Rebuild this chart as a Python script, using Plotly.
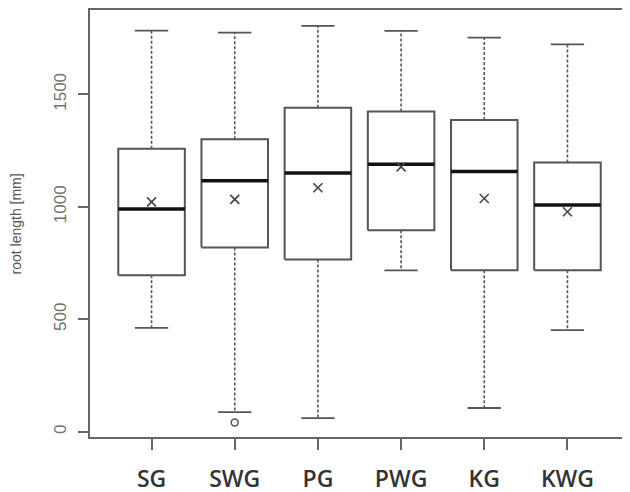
import plotly.graph_objects as go

categories = ["SG", "SWG", "PG", "PWG", "KG", "KWG"]
lower_whisker = [462, 88, 61, 718, 106, 452]
q1_values = [696, 819, 766, 896, 718, 718]
median_values = [990, 1116, 1150, 1189, 1157, 1008]
q3_values = [1258, 1300, 1440, 1424, 1386, 1197]
upper_whisker = [1783, 1774, 1804, 1782, 1752, 1722]
mean_values = [1022, 1033, 1085, 1178, 1037, 978]
outlier_group = ["SWG"]
outlier_values = [41]
y_ticks = [0, 500, 1000, 1500]

BOX_HALF = 0.4
CAP_HALF = 0.2
LINE_COL = "#555555"

fig = go.Figure()
positions = list(range(1, len(categories) + 1))

for i, cat in enumerate(categories):
    x = positions[i]
    fig.add_trace(go.Scatter(
        x=[x - BOX_HALF, x + BOX_HALF, x + BOX_HALF, x - BOX_HALF, x - BOX_HALF],
        y=[q1_values[i], q1_values[i], q3_values[i], q3_values[i], q1_values[i]],
        mode="lines", line=dict(color=LINE_COL, width=2), hoverinfo="skip", showlegend=False))
    fig.add_trace(go.Scatter(
        x=[x, x, None, x, x],
        y=[q3_values[i], upper_whisker[i], None, q1_values[i], lower_whisker[i]],
        mode="lines", line=dict(color=LINE_COL, width=1.6, dash="3px,2px"),
        hoverinfo="skip", showlegend=False))
    fig.add_trace(go.Scatter(
        x=[x - CAP_HALF, x + CAP_HALF, None, x - CAP_HALF, x + CAP_HALF],
        y=[upper_whisker[i], upper_whisker[i], None, lower_whisker[i], lower_whisker[i]],
        mode="lines", line=dict(color=LINE_COL, width=1.8), hoverinfo="skip", showlegend=False))
    fig.add_trace(go.Scatter(
        x=[x - BOX_HALF, x + BOX_HALF], y=[median_values[i], median_values[i]],
        mode="lines", line=dict(color="#111111", width=3.5), hoverinfo="skip", showlegend=False))

fig.add_trace(go.Scatter(
    x=positions, y=mean_values, mode="markers",
    marker=dict(symbol="x-thin", size=9, line=dict(color="#444444", width=1.6)),
    showlegend=False))

fig.add_trace(go.Scatter(
    x=[positions[categories.index(c)] for c in outlier_group], y=outlier_values,
    mode="markers",
    marker=dict(symbol="circle-open", size=7, color="#555555", line=dict(width=1.5)),
    showlegend=False))

fig.update_layout(
    width=622, height=484,
    margin=dict(l=82, r=1, t=2, b=55),
    plot_bgcolor="white", paper_bgcolor="white",
    xaxis=dict(
        range=[0.26, 6.74], tickmode="array", tickvals=positions, ticktext=categories,
        showgrid=False, zeroline=False, showline=True, mirror=True, automargin=False,
        linecolor="#666666", linewidth=1.8,
        ticks="outside", ticklen=11, tickwidth=1.5, tickcolor="#666666",
        ticklabelstandoff=9,
        tickfont=dict(family="Open Sans", size=23, color="#333333", weight=600),
    ),
    yaxis=dict(
        range=[-23, 1875], tickmode="array", tickvals=y_ticks,
        showgrid=False, zeroline=False, showline=True, mirror=True, automargin=False,
        linecolor="#666666", linewidth=1.8,
        ticks="outside", ticklen=10, tickwidth=1.5, tickcolor="#666666",
        tickangle=-90, ticklabelstandoff=5,
        tickfont=dict(family="Liberation Sans", size=17, color="#707070"),
    ),
    annotations=[dict(
        text="root length [mm]", xref="paper", yref="paper",
        x=-0.1373, y=0.5, textangle=-90, showarrow=False,
        xanchor="center", yanchor="middle",
        font=dict(family="Liberation Sans", size=14, color="#555555"),
    )],
)

fig.write_html("out.html")
